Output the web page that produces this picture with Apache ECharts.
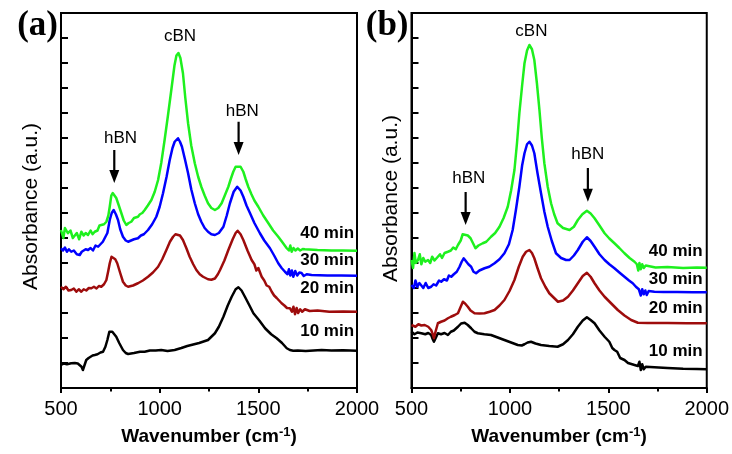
<!DOCTYPE html>
<html>
<head>
<meta charset="utf-8">
<script src="https://cdn.jsdelivr.net/npm/echarts@6/dist/echarts.min.js"></script>
<style>
  html, body { margin: 0; padding: 0; background: #fff; }
  #chart { width: 732px; height: 454px; }
</style>
</head>
<body>
<div id="chart"></div>
<script>
// FTIR absorbance spectra (offset, arbitrary units) versus wavenumber (cm-1)
const xTicks = [500, 1000, 1500, 2000];

// Panel (a)
const a10 = [[500,0.92],[515,0.98],[530,0.95],[552,0.99],[570,1.0],[585,0.98],[595,0.99],[604,0.85],[611,0.72],[618,0.8],[628,1.12],[640,1.2],[650,1.18],[660,1.3],[671,1.32],[685,1.35],[700,1.42],[713,1.45],[725,1.65],[735,1.92],[745,2.25],[750,2.32],[760,2.25],[770,2.15],[780,2.05],[795,1.8],[814,1.52],[828,1.4],[840,1.36],[870,1.4],[900,1.45],[924,1.45],[950,1.5],[980,1.5],[1008,1.52],[1040,1.48],[1076,1.52],[1110,1.6],[1140,1.68],[1160,1.72],[1200,1.8],[1245,1.92],[1262,2.05],[1280,2.19],[1300,2.45],[1323,2.85],[1345,3.3],[1365,3.65],[1385,3.95],[1399,4.03],[1415,3.9],[1432,3.65],[1455,3.3],[1475,2.99],[1505,2.7],[1534,2.39],[1565,2.15],[1593,1.99],[1620,1.8],[1644,1.59],[1660,1.52],[1677,1.49],[1700,1.5],[1740,1.48],[1780,1.5],[1821,1.52],[1870,1.5],[1930,1.51],[2000,1.49]];
const a20 = [[500,4.05],[512,3.95],[525,4.05],[538,3.9],[552,3.92],[565,3.98],[578,3.85],[590,3.95],[603,3.85],[615,3.95],[628,3.9],[641,4.0],[654,3.99],[667,4.05],[680,3.98],[692,4.08],[704,4.05],[718,4.15],[730,4.32],[740,4.7],[747,4.99],[756,5.25],[764,5.28],[775,5.15],[785,4.99],[800,4.6],[814,4.25],[828,4.1],[840,4.05],[865,4.1],[890,4.19],[915,4.3],[941,4.45],[966,4.62],[992,4.85],[1013,5.15],[1034,5.52],[1052,5.85],[1068,6.05],[1080,6.15],[1090,6.19],[1103,6.1],[1118,5.92],[1135,5.6],[1152,5.25],[1170,4.95],[1186,4.72],[1203,4.55],[1220,4.45],[1245,4.35],[1262,4.33],[1280,4.38],[1295,4.55],[1306,4.72],[1328,5.1],[1348,5.52],[1370,5.95],[1385,6.2],[1395,6.29],[1410,6.15],[1424,5.92],[1445,5.5],[1466,5.12],[1480,4.95],[1490,4.7],[1500,4.8],[1517,4.45],[1530,4.3],[1542,4.1],[1555,4.05],[1568,3.85],[1580,3.7],[1593,3.6],[1605,3.5],[1618,3.39],[1632,3.3],[1645,3.2],[1660,3.19],[1670,3.05],[1678,3.25],[1686,2.95],[1694,3.2],[1702,3.0],[1712,3.15],[1722,3.05],[1736,3.15],[1760,3.08],[1800,3.1],[1860,3.05],[1930,3.06],[2000,3.05]];
const a30 = [[500,5.59],[510,5.5],[520,5.62],[530,5.45],[540,5.55],[552,5.45],[565,5.5],[580,5.35],[595,5.32],[605,5.45],[615,5.4],[625,5.55],[637,5.52],[650,5.6],[662,5.5],[675,5.7],[688,5.65],[700,5.75],[712,5.85],[721,5.92],[735,6.2],[747,6.72],[757,7.0],[767,7.12],[778,6.95],[789,6.72],[800,6.35],[814,6.05],[828,5.9],[840,5.85],[855,5.9],[870,5.95],[890,5.99],[905,6.1],[920,6.15],[941,6.32],[962,6.55],[983,6.85],[1000,7.25],[1017,7.79],[1035,8.45],[1051,9.12],[1065,9.6],[1076,9.85],[1093,9.99],[1103,9.85],[1113,9.65],[1128,9.15],[1144,8.59],[1160,7.95],[1178,7.39],[1195,6.95],[1211,6.65],[1228,6.4],[1245,6.25],[1262,6.15],[1280,6.12],[1300,6.2],[1323,6.45],[1340,6.9],[1356,7.39],[1375,7.85],[1393,8.05],[1410,7.9],[1424,7.65],[1440,7.3],[1458,6.99],[1480,6.6],[1508,6.19],[1530,5.9],[1559,5.59],[1580,5.3],[1601,4.99],[1618,4.8],[1635,4.65],[1648,4.55],[1655,4.75],[1662,4.5],[1670,4.7],[1677,4.45],[1687,4.68],[1697,4.5],[1708,4.62],[1719,4.6],[1730,4.48],[1745,4.55],[1770,4.52],[1850,4.5],[1920,4.5],[2000,4.49]];
const a40 = [[500,6.32],[512,6.0],[520,6.4],[535,6.19],[548,6.3],[560,6.0],[569,6.05],[580,6.2],[592,5.95],[603,6.25],[615,6.1],[625,6.2],[637,6.12],[650,6.3],[660,6.15],[671,6.25],[685,6.3],[695,6.5],[704,6.45],[718,6.55],[730,6.65],[740,6.9],[747,7.25],[755,7.7],[762,7.8],[772,7.75],[780,7.6],[793,7.3],[806,6.99],[818,6.7],[831,6.52],[843,6.6],[856,6.65],[870,6.8],[880,6.75],[890,6.85],[900,6.95],[912,7.0],[924,7.12],[940,7.3],[958,7.52],[975,7.85],[992,8.32],[1008,9.0],[1025,9.92],[1042,10.9],[1059,11.92],[1075,12.9],[1085,13.3],[1095,13.4],[1105,13.2],[1118,12.59],[1130,11.6],[1144,10.59],[1160,9.7],[1178,8.99],[1195,8.45],[1211,8.05],[1228,7.7],[1245,7.39],[1262,7.2],[1280,7.12],[1297,7.2],[1314,7.39],[1330,7.7],[1348,8.05],[1362,8.4],[1373,8.65],[1385,8.85],[1395,8.92],[1410,8.85],[1424,8.65],[1436,8.35],[1449,8.05],[1465,7.75],[1480,7.5],[1500,7.25],[1525,6.9],[1551,6.59],[1575,6.3],[1601,6.05],[1620,5.85],[1644,5.59],[1655,5.5],[1662,5.7],[1669,5.45],[1678,5.6],[1688,5.5],[1700,5.58],[1712,5.5],[1725,5.56],[1736,5.55],[1800,5.52],[1870,5.5],[1930,5.5],[2000,5.49]];

// Panel (b)
const b10 = [[500,2.25],[515,2.15],[530,2.22],[550,2.19],[570,2.15],[585,2.2],[600,2.12],[608,1.95],[614,1.85],[620,1.95],[634,2.19],[650,2.15],[668,2.2],[685,2.12],[700,2.25],[715,2.3],[736,2.45],[752,2.58],[770,2.61],[786,2.52],[803,2.39],[820,2.25],[837,2.19],[870,2.15],[904,2.12],[938,2.02],[972,1.92],[1006,1.82],[1040,1.72],[1060,1.7],[1074,1.75],[1090,1.82],[1107,1.85],[1130,1.78],[1158,1.72],[1200,1.68],[1242,1.65],[1270,1.75],[1295,1.92],[1320,2.15],[1345,2.45],[1370,2.7],[1391,2.83],[1410,2.72],[1430,2.59],[1455,2.3],[1481,2.05],[1505,1.85],[1520,1.6],[1531,1.52],[1545,1.45],[1560,1.2],[1582,1.12],[1600,1.0],[1633,0.92],[1650,0.88],[1658,1.05],[1665,0.72],[1672,0.95],[1680,0.75],[1690,0.85],[1700,0.8],[1734,0.83],[1800,0.8],[1880,0.77],[1950,0.76],[2000,0.75]];
const b20 = [[500,2.52],[520,2.45],[535,2.55],[550,2.5],[567,2.52],[585,2.45],[600,2.32],[608,2.15],[614,1.99],[622,2.25],[634,2.59],[650,2.65],[668,2.7],[685,2.79],[700,2.85],[720,2.92],[736,2.99],[750,3.25],[761,3.45],[772,3.38],[786,3.25],[800,3.1],[820,2.99],[845,2.98],[871,2.99],[897,3.05],[922,3.12],[947,3.3],[972,3.52],[998,3.88],[1023,4.32],[1045,4.85],[1065,5.25],[1082,5.45],[1099,5.52],[1112,5.4],[1124,5.19],[1140,4.8],[1158,4.39],[1180,4.05],[1200,3.79],[1222,3.62],[1244,3.45],[1270,3.5],[1295,3.65],[1320,3.9],[1345,4.19],[1370,4.48],[1391,4.61],[1410,4.45],[1430,4.19],[1455,3.9],[1481,3.65],[1515,3.38],[1548,3.12],[1582,2.9],[1616,2.72],[1650,2.61],[1700,2.6],[1800,2.6],[1900,2.59],[2000,2.59]];
const b30 = [[500,4.12],[512,4.0],[520,4.3],[530,4.05],[540,4.2],[550,4.1],[560,4.0],[572,4.2],[585,4.0],[600,4.05],[612,4.15],[625,4.1],[640,4.3],[651,4.25],[665,4.35],[680,4.3],[690,4.5],[702,4.45],[715,4.55],[730,4.65],[744,4.85],[755,5.05],[765,5.19],[775,5.15],[789,4.95],[803,4.85],[815,4.65],[828,4.59],[845,4.7],[871,4.79],[895,4.85],[922,4.99],[947,5.15],[972,5.39],[995,5.75],[1014,6.32],[1030,7.1],[1048,8.05],[1062,8.9],[1074,9.39],[1087,9.75],[1099,9.85],[1112,9.7],[1124,9.39],[1140,8.6],[1158,7.79],[1175,7.05],[1192,6.45],[1212,5.9],[1234,5.39],[1260,5.2],[1285,5.12],[1303,5.12],[1325,5.3],[1345,5.52],[1370,5.85],[1391,6.03],[1410,5.88],[1430,5.65],[1455,5.35],[1481,5.12],[1505,4.95],[1531,4.79],[1556,4.62],[1582,4.45],[1605,4.3],[1624,4.19],[1640,4.05],[1655,3.95],[1665,3.7],[1672,3.95],[1680,3.75],[1688,3.9],[1695,3.72],[1705,3.88],[1715,3.8],[1734,3.85],[1780,3.84],[1850,3.84],[1930,3.83],[2000,3.83]];
const b40 = [[500,5.12],[508,4.8],[515,5.4],[522,5.0],[533,5.12],[542,5.35],[550,4.95],[560,5.2],[570,5.05],[584,5.12],[595,5.0],[605,5.25],[617,5.1],[634,5.25],[645,5.35],[655,5.2],[668,5.4],[685,5.45],[700,5.5],[712,5.62],[725,5.55],[736,5.72],[750,5.9],[760,6.15],[770,6.21],[786,6.1],[800,5.99],[812,5.8],[825,5.59],[840,5.7],[850,5.75],[862,5.79],[880,5.85],[904,6.05],[925,6.2],[947,6.45],[968,6.8],[989,7.25],[1006,7.9],[1023,8.72],[1036,9.8],[1048,10.99],[1062,12.1],[1074,12.99],[1087,13.5],[1099,13.72],[1112,13.55],[1124,13.12],[1137,12.2],[1150,11.12],[1162,10.0],[1175,8.99],[1192,8.05],[1209,7.39],[1225,6.95],[1242,6.59],[1270,6.4],[1303,6.32],[1325,6.45],[1345,6.72],[1368,6.95],[1391,7.09],[1410,6.98],[1430,6.79],[1455,6.5],[1481,6.19],[1505,5.98],[1531,5.79],[1556,5.6],[1582,5.39],[1608,5.2],[1633,5.05],[1645,4.95],[1652,4.7],[1658,5.0],[1665,4.75],[1672,4.95],[1680,4.8],[1690,4.9],[1700,4.85],[1740,4.82],[1800,4.84],[1880,4.8],[1950,4.82],[2000,4.81]];

const seriesNames = ['10 min', '20 min', '30 min', '40 min'];
const seriesColors = ['#000000', '#9e0c0c', '#0000ff', '#1ef01e'];
const panelData = [[a10, a20, a30, a40], [b10, b20, b30, b40]];
const panelTags = ['(a)', '(b)'];

// Curve labels: [wavenumber at right edge of text, y]
const curveLabelPos = [
  [[1985, 2.25], [1985, 3.99], [1985, 5.12], [1985, 6.19]],
  [[1979, 1.48], [1979, 3.19], [1979, 4.35], [1979, 5.45]]
];
// Peak annotations: text [x, y], arrow [x, yTop, yTip]
const peakNotes = [
  [
    { text: 'cBN', at: [1103, 14.08] },
    { text: 'hBN', at: [802, 9.99], arrow: [770, 9.52, 8.2] },
    { text: 'hBN', at: [1419, 11.08], arrow: [1400, 10.65, 9.32] }
  ],
  [
    { text: 'cBN', at: [1109, 14.25] },
    { text: 'hBN', at: [791, 8.39], arrow: [775, 7.84, 6.52] },
    { text: 'hBN', at: [1396, 9.35], arrow: [1396, 8.8, 7.45] }
  ]
];

const FONT = 'Liberation Sans, Arial, sans-serif';
const grids = [
  { left: 61, top: 13, width: 296, height: 375 },
  { left: 411.5, top: 13, width: 296.5, height: 375 }
];
// y-title placement per panel: gap from the axis line, downward shift (px)
const yNameGap = [19, 10];
const yNameDown = [6, -2];

const chart = echarts.init(document.getElementById('chart'), null, { renderer: 'canvas' });

const option = {
  animation: false,
  backgroundColor: '#fff',
  grid: grids.map(g => Object.assign({ show: true, borderColor: '#000', borderWidth: 2, backgroundColor: 'transparent' }, g)),
  xAxis: grids.map((g, i) => ({
    type: 'value', gridIndex: i, min: xTicks[0], max: xTicks[xTicks.length - 1], interval: 500,
    axisLine: { lineStyle: { color: '#000', width: 2 } },
    axisTick: { inside: false, length: 5, lineStyle: { color: '#000', width: 2 } },
    minorTick: { show: true, splitNumber: 2, length: 3.5, lineStyle: { color: '#000', width: 2 } },
    splitLine: { show: false },
    axisLabel: { fontSize: 20, color: '#000', fontFamily: FONT, margin: 11, showMaxLabel: true, showMinLabel: true,
      formatter: v => String(v) },
    name: '{t|Wavenumber (cm}{s|-1}{t|)}',
    nameLocation: 'middle', nameGap: 38,
    nameTextStyle: {
      rich: {
        t: { fontSize: 19, fontWeight: 'bold', color: '#000', fontFamily: FONT },
        s: { fontSize: 13, fontWeight: 'bold', color: '#000', fontFamily: FONT, verticalAlign: 'top', padding: [0, 0, 8, 0] }
      }
    }
  })),
  yAxis: grids.map((g, i) => ({
    type: 'value', gridIndex: i, min: 0, max: 15, interval: 1,
    axisLine: { show: true, lineStyle: { color: '#000', width: 2 } },
    axisTick: { show: true, inside: true, length: 7, lineStyle: { color: '#000', width: 2 } },
    axisLabel: { show: false },
    splitLine: { show: false },
    name: 'Absorbance (a.u.)', nameLocation: 'middle', nameGap: yNameGap[i],
    nameTextStyle: { fontSize: 21, color: '#000', fontFamily: FONT,
      padding: yNameDown[i] > 0 ? [0, 2 * yNameDown[i], 0, 0] : [0, 0, 0, -2 * yNameDown[i]] }
  })),
  series: []
};

panelData.forEach((curves, p) => {
  curves.forEach((d, k) => {
    option.series.push({
      type: 'line', name: seriesNames[k], xAxisIndex: p, yAxisIndex: p,
      data: d, showSymbol: false, symbol: 'none', smooth: false,
      lineStyle: { color: seriesColors[k], width: 2.5, join: 'round' }, z: 2 + k
    });
  });
});

chart.setOption(option);

// Annotations placed through the axes' own coordinate conversion
const graphics = [];
panelTags.forEach((tag, p) => {
  const px = v => chart.convertToPixel({ gridIndex: p }, v);
  peakNotes[p].forEach(n => {
    const t = px(n.at);
    graphics.push({
      type: 'text', x: t[0], y: t[1], z: 10,
      style: { text: n.text, fontSize: 17, fontFamily: FONT, fill: '#000', align: 'center', verticalAlign: 'middle' }
    });
    if (n.arrow) {
      const top = px([n.arrow[0], n.arrow[1]]);
      const tip = px([n.arrow[0], n.arrow[2]]);
      graphics.push({
        type: 'line', z: 10,
        shape: { x1: top[0], y1: top[1], x2: tip[0], y2: tip[1] - 9 },
        style: { stroke: '#000', lineWidth: 2.2 }
      });
      graphics.push({
        type: 'polygon', z: 10,
        shape: { points: [[tip[0] - 5, tip[1] - 13], [tip[0] + 5, tip[1] - 13], [tip[0], tip[1]]] },
        style: { fill: '#000' }
      });
    }
  });
  curveLabelPos[p].forEach((pos, k) => {
    const t = px(pos);
    graphics.push({
      type: 'text', x: t[0], y: t[1], z: 10,
      style: { text: seriesNames[k], fontSize: 17, fontWeight: 'bold', fontFamily: FONT, fill: '#000', align: 'right', verticalAlign: 'middle' }
    });
  });
  const g = grids[p];
  graphics.push({
    type: 'text', x: g.left - 3, y: 26, z: 10,
    style: { text: tag, fontSize: 35, fontWeight: 'bold', fontFamily: 'Liberation Serif, Times New Roman, serif', fill: '#000', align: 'right', verticalAlign: 'middle' }
  });
});
chart.setOption({ graphic: graphics });
</script>
</body>
</html>
